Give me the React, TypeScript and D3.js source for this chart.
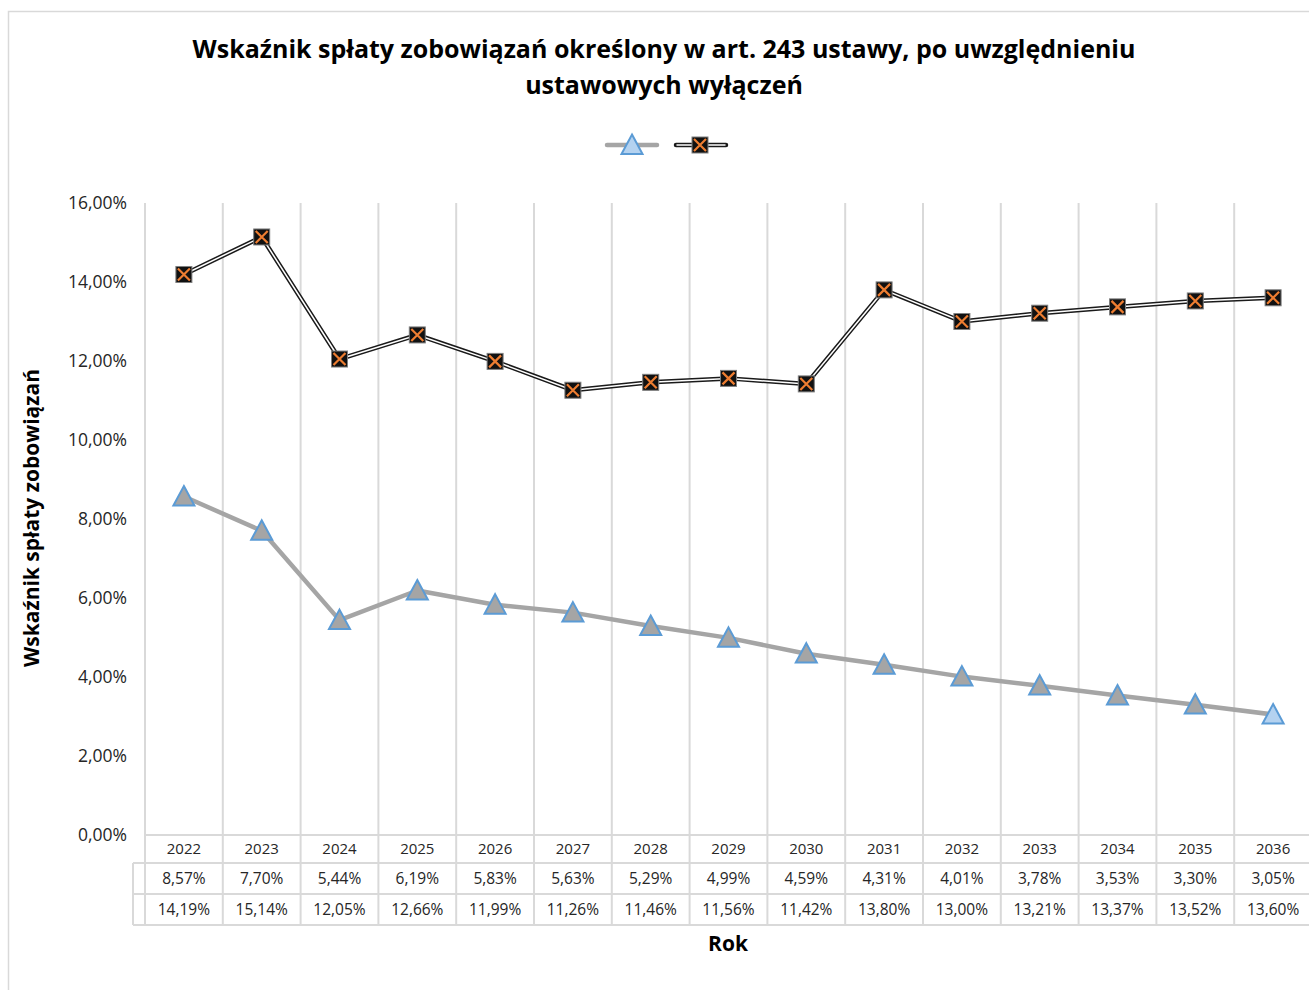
import React, { useEffect, useRef } from 'react';
import * as d3 from 'd3';

const years = ['2022', '2023', '2024', '2025', '2026', '2027', '2028', '2029', '2030', '2031', '2032', '2033', '2034', '2035', '2036'];
const seriesA = [8.57, 7.7, 5.44, 6.19, 5.83, 5.63, 5.29, 4.99, 4.59, 4.31, 4.01, 3.78, 3.53, 3.3, 3.05];
const seriesB = [14.19, 15.14, 12.05, 12.66, 11.99, 11.26, 11.46, 11.56, 11.42, 13.8, 13.0, 13.21, 13.37, 13.52, 13.6];
const yTicks = [0, 2, 4, 6, 8, 10, 12, 14, 16];

const titleLines = ['Wskaźnik spłaty zobowiązań określony w art. 243 ustawy, po uwzględnieniu', 'ustawowych wyłączeń'];
const FONT = "'Open Sans', 'Noto Sans', sans-serif";

const fmt = (v: number) => v.toFixed(2).replace('.', ',') + '%';

const App: React.FC = () => {
  const svgRef = useRef<SVGSVGElement>(null);

  useEffect(() => {
    if (!svgRef.current) return;
    const svg = d3.select(svgRef.current);
    svg.selectAll('*').remove();

    const W = 1309;
    const H = 990;
    const left = 145;
    const right = 1312;
    const top = 203;
    const bottom = 835;
    const rowH = [28, 31, 31];
    const grid = '#d9d9d9';

    const x = d3.scaleBand().domain(years).range([left, right]);
    const y = d3.scaleLinear().domain([0, 16]).range([bottom, top]);
    const cx = (d: string) => (x(d) as number) + x.bandwidth() / 2;

    // chart frame
    svg.append('rect')
      .attr('x', 8.5).attr('y', 11.5)
      .attr('width', W).attr('height', H)
      .attr('fill', '#fff').attr('stroke', grid).attr('stroke-width', 1.5);

    // title
    svg.append('text')
      .attr('x', 664).attr('y', 58)
      .attr('text-anchor', 'middle')
      .attr('font-family', FONT).attr('font-weight', 'bold').attr('font-size', 25)
      .attr('fill', '#000')
      .selectAll('tspan')
      .data(titleLines)
      .join('tspan')
      .attr('x', 664)
      .attr('dy', (d, i) => (i === 0 ? 0 : 36))
      .text(d => d);

    const rowY = [bottom, bottom + rowH[0], bottom + rowH[0] + rowH[1], bottom + rowH[0] + rowH[1] + rowH[2]];

    // vertical gridlines (plot + table)
    const bounds = years.map(d => x(d) as number).concat([right]);
    svg.append('g')
      .selectAll('line')
      .data(bounds)
      .join('line')
      .attr('x1', d => d).attr('x2', d => d)
      .attr('y1', top).attr('y2', rowY[3])
      .attr('stroke', grid).attr('stroke-width', 2);

    // table horizontal lines
    svg.append('line').attr('x1', left).attr('x2', right).attr('y1', rowY[0]).attr('y2', rowY[0])
      .attr('stroke', grid).attr('stroke-width', 2);
    [rowY[1], rowY[2], rowY[3]].forEach(yy => {
      svg.append('line').attr('x1', 133).attr('x2', right).attr('y1', yy).attr('y2', yy)
        .attr('stroke', grid).attr('stroke-width', 2);
    });
    svg.append('line').attr('x1', 133).attr('x2', 133).attr('y1', rowY[1]).attr('y2', rowY[3])
      .attr('stroke', grid).attr('stroke-width', 2);

    // y tick labels
    svg.append('g')
      .selectAll('text')
      .data(yTicks)
      .join('text')
      .attr('x', 127)
      .attr('y', d => y(d))
      .attr('dy', '0.35em')
      .attr('text-anchor', 'end')
      .attr('font-family', FONT).attr('font-size', 17.5)
      .attr('fill', '#262626')
      .text(d => fmt(d));

    // table text
    const tableRows: string[][] = [years, seriesA.map(fmt), seriesB.map(fmt)];
    tableRows.forEach((row, ri) => {
      svg.append('g')
        .selectAll('text')
        .data(row)
        .join('text')
        .attr('x', (d, i) => cx(years[i]))
        .attr('y', (rowY[ri] + rowY[ri + 1]) / 2)
        .attr('dy', '0.36em')
        .attr('text-anchor', 'middle')
        .attr('font-family', FONT).attr('font-size', ri === 0 ? 15 : 15.5)
        .attr('fill', '#262626')
        .text(d => d);
    });

    // axis titles
    svg.append('text')
      .attr('transform', 'translate(39,518) rotate(-90)')
      .attr('text-anchor', 'middle')
      .attr('font-family', FONT).attr('font-weight', 'bold').attr('font-size', 21)
      .attr('fill', '#000')
      .text('Wskaźnik spłaty zobowiązań');

    svg.append('text')
      .attr('x', 728).attr('y', 951)
      .attr('text-anchor', 'middle')
      .attr('font-family', FONT).attr('font-weight', 'bold').attr('font-size', 21)
      .attr('fill', '#000')
      .text('Rok');

    // markers
    const triPath = (px: number, py: number, s = 10.5) =>
      `M${px},${py - s} L${px + s},${py + s * 0.85} L${px - s},${py + s * 0.85} Z`;
    const drawTri = (g: d3.Selection<SVGGElement, unknown, null, undefined>, px: number, py: number, fill: string) => {
      g.append('path').attr('d', triPath(px, py)).attr('fill', fill)
        .attr('stroke', '#5b9bd5').attr('stroke-width', 2).attr('stroke-linejoin', 'miter');
    };
    const drawSq = (g: d3.Selection<SVGGElement, unknown, null, undefined>, px: number, py: number) => {
      const s = 8;
      g.append('rect').attr('x', px - s).attr('y', py - s).attr('width', 2 * s).attr('height', 2 * s)
        .attr('fill', '#111').attr('stroke', '#7f7f7f').attr('stroke-width', 1);
      g.append('path')
        .attr('d', `M${px - s + 2},${py - s + 2} L${px + s - 2},${py + s - 2} M${px + s - 2},${py - s + 2} L${px - s + 2},${py + s - 2}`)
        .attr('stroke', '#ed7d31').attr('stroke-width', 2.2);
    };

    // series A line
    const lineA = d3.line<number>().x((d, i) => cx(years[i])).y(d => y(d));
    svg.append('path').datum(seriesA).attr('d', lineA)
      .attr('fill', 'none').attr('stroke', '#a5a5a5').attr('stroke-width', 4.5).attr('stroke-linejoin', 'round');

    // series B double line
    const lineB = d3.line<number>().x((d, i) => cx(years[i])).y(d => y(d));
    svg.append('path').datum(seriesB).attr('d', lineB)
      .attr('fill', 'none').attr('stroke', '#1a1a1a').attr('stroke-width', 4.5).attr('stroke-linejoin', 'miter');
    svg.append('path').datum(seriesB).attr('d', lineB)
      .attr('fill', 'none').attr('stroke', '#fff').attr('stroke-width', 1.5).attr('stroke-linejoin', 'miter');

    const mA = svg.append('g');
    seriesA.forEach((v, i) => drawTri(mA, cx(years[i]), y(v), i === seriesA.length - 1 ? '#b4d2f0' : '#a5a5a5'));
    const mB = svg.append('g');
    seriesB.forEach((v, i) => drawSq(mB, cx(years[i]), y(v)));

    // legend
    const lg = svg.append('g');
    lg.append('line').attr('x1', 607).attr('x2', 657).attr('y1', 145).attr('y2', 145)
      .attr('stroke', '#a5a5a5').attr('stroke-width', 4.5).attr('stroke-linecap', 'round');
    drawTri(lg, 632, 145, '#b4d2f0');
    lg.append('line').attr('x1', 676).attr('x2', 726).attr('y1', 145).attr('y2', 145)
      .attr('stroke', '#1a1a1a').attr('stroke-width', 4.5).attr('stroke-linecap', 'round');
    lg.append('line').attr('x1', 677).attr('x2', 725).attr('y1', 145).attr('y2', 145)
      .attr('stroke', '#fff').attr('stroke-width', 1.5).attr('stroke-linecap', 'round');
    drawSq(lg, 700, 145);
  }, []);

  return (
    <svg
      ref={svgRef}
      width={1309}
      height={990}
      style={{ position: 'absolute', left: 0, top: 0, background: '#fff' }}
    />
  );
};

export default App;
